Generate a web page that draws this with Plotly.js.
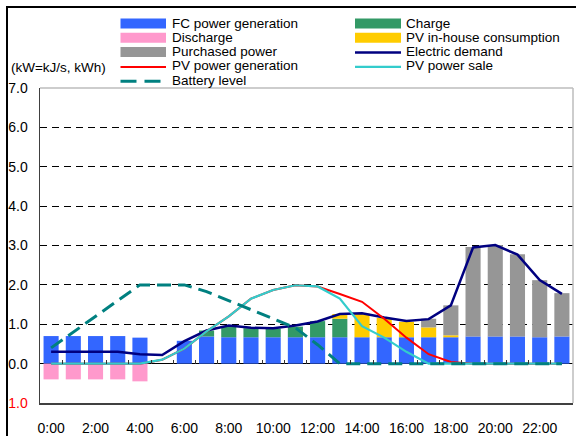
<!DOCTYPE html>
<html>
<head>
<meta charset="utf-8">
<script src="https://cdn.plot.ly/plotly-3.0.1.min.js"></script>
<style>
  html, body { margin: 0; padding: 0; background: #fff; overflow: hidden; }
  #frame { position: absolute; left: 6px; top: 6px; width: 640px; height: 520px;
           border: 2px solid #000; box-sizing: border-box; }
  #chart { position: absolute; left: 0; top: 0; width: 576px; height: 436px; }
</style>
</head>
<body>
<div id="frame"></div>
<div id="chart"></div>
<script>
// Hourly energy balance (kW=kJ/s, kWh)
const hours = [0,1,2,3,4,5,6,7,8,9,10,11,12,13,14,15,16,17,18,19,20,21,22,23];
const hourTickVals = [0,2,4,6,8,10,12,14,16,18,20,22];
const hourTickText = ['0:00','2:00','4:00','6:00','8:00','10:00','12:00','14:00','16:00','18:00','20:00','22:00'];
const valueTickVals = [-1,0,1,2,3,4,5,6,7];
const valueTickText = ['1.0','0.0','1.0','2.0','3.0','4.0','5.0','6.0','7.0'];

const fcGeneration = [0.70,0.70,0.70,0.70,0.66,0.00,0.58,0.69,0.67,0.67,0.67,0.67,0.67,0.67,0.67,0.67,0.67,0.67,0.67,0.69,0.69,0.69,0.67,0.69];
const charge       = [0,0,0,0,0,0,0,0.15,0.28,0.23,0.22,0.27,0.41,0.47,0,0,0,0,0,0,0,0,0,0];
const discharge    = [-0.40,-0.40,-0.40,-0.40,-0.45,0,0,0,0,0,0,0,0,0,0,0,0,0,0,0,0,0,0,0];
const pvInHouse    = [0,0,0,0,0,0,0,0,0,0,0,0,0,0.12,0.60,0.49,0.39,0.25,0.05,0,0,0,0,0];
const purchased    = [0,0,0,0,0,0,0,0,0,0,0,0,0,0,0,0,0,0.22,0.76,2.27,2.32,2.09,1.45,1.10];
const demand       = [0.30,0.30,0.30,0.30,0.24,0.22,0.57,0.84,0.97,0.91,0.90,0.97,1.07,1.26,1.28,1.17,1.08,1.13,1.48,2.95,3.01,2.77,2.12,1.77];
const pvGeneration = [0,0,0,0,0,0.10,0.38,0.82,1.20,1.65,1.87,1.99,1.96,1.77,1.57,1.14,0.66,0.24,0.04,0,0,0,0,0];
const pvSale       = [0,0,0,0,0,0.10,0.38,0.82,1.20,1.65,1.87,1.99,1.96,1.65,0.95,0.66,0.30,0,0,0,0,0,0,0];
const batteryLevel = [0.40,0.80,1.20,1.60,2.00,2.00,2.00,1.83,1.60,1.37,1.14,0.91,0.48,0,0,0,0,0,0,0,0,0,0,0];

const FONT = '"Liberation Sans", Arial, sans-serif';
const W = 576, H = 436;
const M = { l: 40, r: 3, t: 88, b: 33 };
const plotW = W - M.l - M.r, plotH = H - M.t - M.b;
const px2x = p => (p - M.l) / plotW;
const px2y = p => (H - M.b - p) / plotH;

function barTrace(name, y, color) {
  return { type: 'bar', name, x: hours, y, marker: { color, line: { width: 0 } },
           hoverinfo: 'skip', showlegend: false };
}
function lineTrace(name, y, color, width, dash) {
  return { type: 'scatter', mode: 'lines', name, x: hours, y,
           line: { color, width, dash: dash || 'solid' }, hoverinfo: 'skip', showlegend: false };
}

const traces = [
  barTrace('FC power generation', fcGeneration, '#3366FF'),
  barTrace('Charge', charge, '#339966'),
  barTrace('Discharge', discharge, '#FF99CC'),
  barTrace('PV in-house consumption', pvInHouse, '#FFCC00'),
  barTrace('Purchased power', purchased, '#969696'),
  lineTrace('Electric demand', demand, '#000080', 2.5),
  lineTrace('PV power generation', pvGeneration, '#FF0000', 2),
  lineTrace('PV power sale', pvSale, '#33CCCC', 2.2),
  lineTrace('Battery level', batteryLevel, '#008080', 3, '14px,7px')
];

// Two-column key above the plot, built from the trace styles
const shapes = [];
const annotations = [];
const colSym = [[120.5, 166], [355, 401]];
const colText = [170, 404];
const rowY = r => 23 + 14.3 * r;
traces.forEach((t, i) => {
  const c = i % 2, r = Math.floor(i / 2);
  const yc = rowY(r);
  if (t.type === 'bar') {
    shapes.push({ type: 'rect', xref: 'paper', yref: 'paper',
      x0: px2x(colSym[c][0]), x1: px2x(colSym[c][1]),
      y0: px2y(yc - 4.5), y1: px2y(yc + 5.5),
      fillcolor: t.marker.color, line: { width: 0 } });
  } else {
    shapes.push({ type: 'line', xref: 'paper', yref: 'paper',
      x0: px2x(colSym[c][0]), x1: px2x(colSym[c][1]),
      y0: px2y(yc + 1), y1: px2y(yc + 1),
      line: { color: t.line.color, width: t.line.width, dash: t.line.dash === 'solid' ? 'solid' : '16px,8px' } });
  }
  annotations.push({ xref: 'paper', yref: 'paper', x: px2x(colText[c]), y: px2y(yc),
    xanchor: 'left', yanchor: 'middle', showarrow: false, text: t.name,
    font: { family: FONT, size: 13.5, color: '#000' } });
});

annotations.push({ xref: 'paper', yref: 'paper', x: px2x(9), y: px2y(67),
  xanchor: 'left', yanchor: 'middle', showarrow: false, text: '(kW=kJ/s, kWh)',
  font: { family: FONT, size: 13.5, color: '#000' } });

// light frame on the top and right of the plotting area
shapes.push({ type: 'line', xref: 'paper', yref: 'paper', x0: 0, x1: 1, y0: 1, y1: 1,
  line: { color: '#bdbdbd', width: 1.5 }, layer: 'above' });
shapes.push({ type: 'line', xref: 'paper', yref: 'paper', x0: 1, x1: 1, y0: 0, y1: 1,
  line: { color: '#bdbdbd', width: 1.5 }, layer: 'above' });

const yMin = -1, yMax = 7;
const zeroPos = (0 - yMin) / (yMax - yMin);
const boundaryTicks = hours.slice(0, 23).map(h => h + 0.5);

const layout = {
  width: W, height: H,
  margin: M,
  paper_bgcolor: 'rgba(0,0,0,0)',
  plot_bgcolor: '#fff',
  barmode: 'relative',
  bargap: 0.32,
  showlegend: false,
  font: { family: FONT, size: 14, color: '#000' },
  xaxis: {
    range: [-0.5, 23.5], tickmode: 'array', tickvals: hourTickVals, ticktext: hourTickText,
    ticks: '', showgrid: false, zeroline: false,
    showline: true, linecolor: '#404040', linewidth: 1.5,
    tickfont: { family: FONT, size: 14, color: '#000' }, ticklabelstandoff: 12,
    fixedrange: true
  },
  xaxis2: {
    overlaying: 'x', anchor: 'free', position: zeroPos, side: 'bottom',
    range: [-0.5, 23.5], tickmode: 'array', tickvals: boundaryTicks,
    ticks: 'inside', ticklen: 4, tickwidth: 1, tickcolor: '#333',
    showticklabels: false, showgrid: false, zeroline: false, showline: false,
    fixedrange: true
  },
  yaxis: {
    range: [yMin, yMax], tickmode: 'array', tickvals: valueTickVals,
    ticktext: valueTickText.map((t, i) => valueTickVals[i] < 0 ? '<span style="color:#FF0000">' + t + '</span>' : t),
    ticks: '', showgrid: true, gridcolor: '#000', gridwidth: 1, griddash: '7px,5px',
    zeroline: true, zerolinecolor: '#000', zerolinewidth: 1,
    showline: true, linecolor: '#404040', linewidth: 1.5,
    tickfont: { family: FONT, size: 14, color: '#000' }, ticklabelstandoff: 8,
    fixedrange: true
  },
  shapes, annotations
};

// a blank trace on the overlay axis so its zero-line ticks are drawn
const tickCarrier = { type: 'scatter', mode: 'lines', x: [-0.5], y: [0], xaxis: 'x2',
  hoverinfo: 'skip', showlegend: false, line: { width: 0 } };

Plotly.newPlot('chart', traces.concat([tickCarrier]), layout, { staticPlot: true, displayModeBar: false });
</script>
</body>
</html>
